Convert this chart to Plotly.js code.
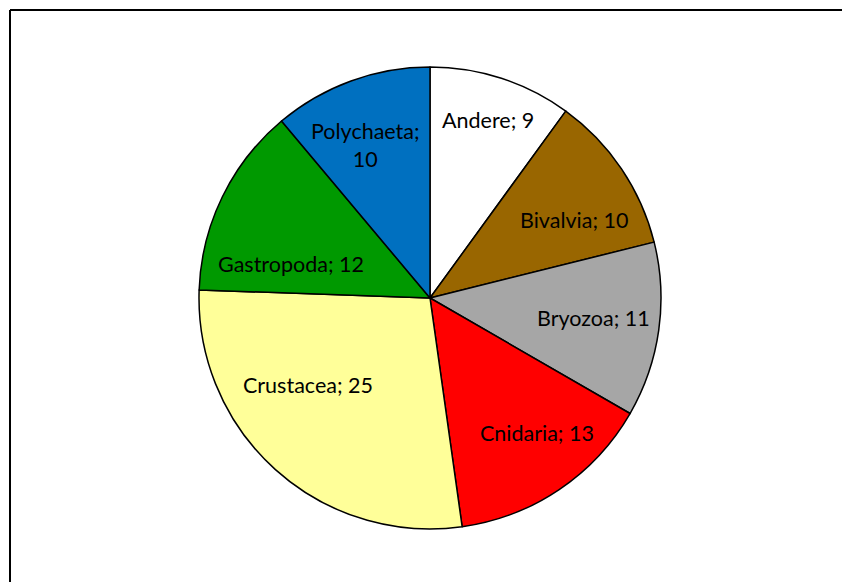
<!DOCTYPE html>
<html>
<head>
<meta charset="utf-8">
<script src="https://cdn.plot.ly/plotly-3.0.1.min.js"></script>
<style>html,body{margin:0;padding:0;background:#fff;}#chart{width:842px;height:582px;}</style>
</head>
<body>
<div id="chart"></div>
<script>
const categories = ["Andere", "Bivalvia", "Bryozoa", "Cnidaria", "Crustacea", "Gastropoda", "Polychaeta"];
const values = [9, 10, 11, 13, 25, 12, 10];
const colors = ["#FFFFFF", "#996600", "#A6A6A6", "#FF0000", "#FFFF99", "#009900", "#0070C0"];

// label placement style (Excel "best fit" look): angular shift (deg) from slice middle, radial fraction
const labelShift = [0, 5.6, -1, -4.3, 12.4, -12.3, -3];
const labelRadius = [0.81, 0.71, 0.715, 0.745, 0.65, 0.62, 0.72];

const W = 842, H = 582;
const CX = 430, CY = 298, R = 231;

const texts = categories.map((c, i) => c === "Polychaeta" ? c + ";<br>" + values[i] : c + "; " + values[i]);

const trace = {
  type: "pie",
  labels: categories,
  values: values,
  textinfo: "none",
  sort: false,
  direction: "clockwise",
  rotation: 0,
  hoverinfo: "none",
  marker: {colors: colors, line: {color: "#000000", width: 1.5}},
  domain: {x: [(CX - R) / W, (CX + R) / W], y: [(H - CY - R) / H, (H - CY + R) / H]}
};

const total = values.reduce((a, b) => a + b, 0);
let cum = 0;
const annotations = values.map((v, i) => {
  const mid = (cum + v / 2) / total * 360 + labelShift[i];
  cum += v;
  const a = mid * Math.PI / 180;
  const px = CX + R * labelRadius[i] * Math.sin(a);
  const py = CY - R * labelRadius[i] * Math.cos(a);
  return {
    xref: "paper", yref: "paper", x: px / W, y: 1 - py / H,
    xanchor: "center", yanchor: "middle", showarrow: false,
    text: texts[i],
    font: {family: "Lato, 'Open Sans', sans-serif", size: 21.5, color: "#000000"}
  };
});

const layout = {
  width: W, height: H,
  margin: {l: 0, r: 0, t: 0, b: 0},
  paper_bgcolor: "#FFFFFF",
  showlegend: false,
  annotations: annotations,
  shapes: [
    {type: "line", xref: "paper", yref: "paper", x0: 10 / W, x1: 1.01, y0: 1 - 10 / H, y1: 1 - 10 / H, line: {color: "#000000", width: 2}},
    {type: "line", xref: "paper", yref: "paper", x0: 10 / W, x1: 10 / W, y0: 1 - 10 / H, y1: -0.01, line: {color: "#000000", width: 2}}
  ]
};

Plotly.newPlot("chart", [trace], layout, {displayModeBar: false, staticPlot: true});
</script>
</body>
</html>
